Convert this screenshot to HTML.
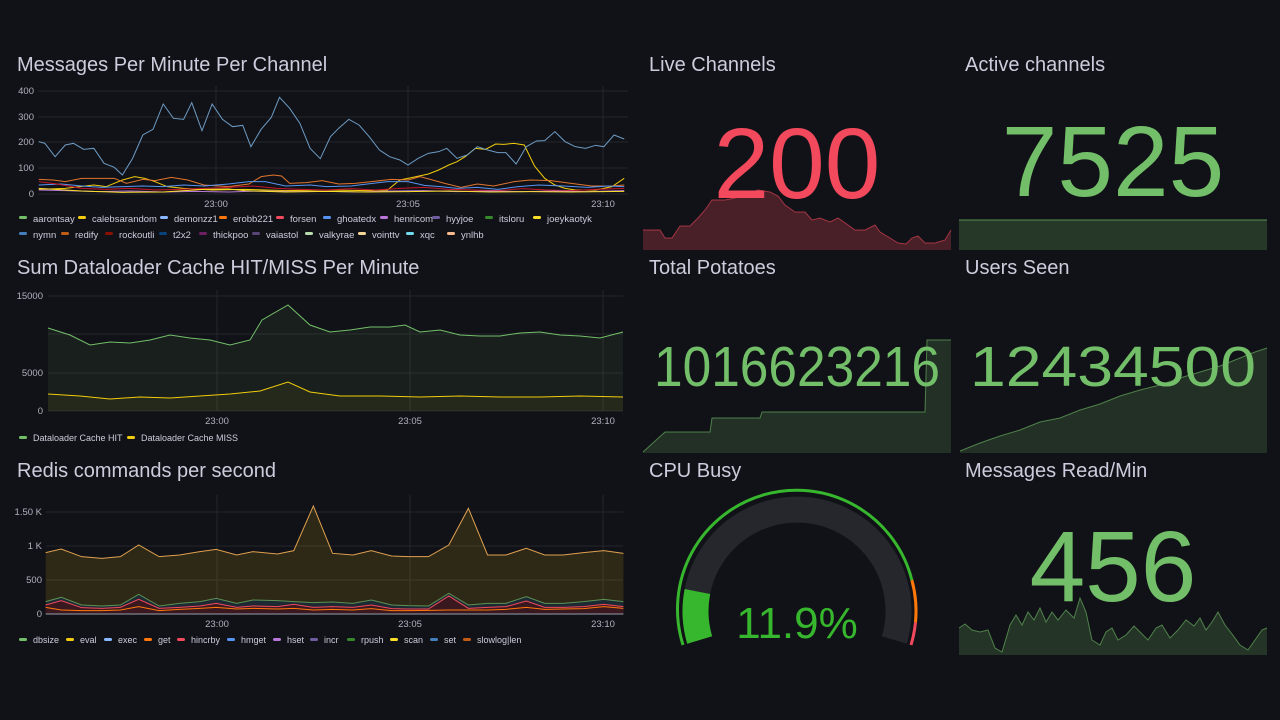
<!DOCTYPE html>
<html><head><meta charset="utf-8"><style>
body{margin:0;background:#111217;width:1280px;height:720px;overflow:hidden;font-family:"Liberation Sans",sans-serif}
svg{display:block}
.t{fill:#ccccdc;font-size:20px}
.ax{fill:#ccccdc;font-size:9.5px;opacity:.85}
.lg{fill:#ccccdc;font-size:9.5px}
.lg2{fill:#ccccdc;font-size:9px}
.g{stroke:#25262b;stroke-width:1}
</style></head><body>
<svg width="1280" height="720" viewBox="0 0 1280 720" xmlns="http://www.w3.org/2000/svg">
<rect width="1280" height="720" fill="#111217"/>
<text class="t" x="17" y="71">Messages Per Minute Per Channel</text>
<text class="t" x="17" y="274">Sum Dataloader Cache HIT/MISS Per Minute</text>
<text class="t" x="17" y="477">Redis commands per second</text>
<text class="t" x="649" y="71">Live Channels</text>
<text class="t" x="965" y="71">Active channels</text>
<text class="t" x="649" y="274">Total Potatoes</text>
<text class="t" x="965" y="274">Users Seen</text>
<text class="t" x="649" y="477">CPU Busy</text>
<text class="t" x="965" y="477">Messages Read/Min</text>

<!-- Panel 1 -->
<g class="g">
<line x1="38" x2="628" y1="91" y2="91"/><line x1="38" x2="628" y1="117" y2="117"/><line x1="38" x2="628" y1="142" y2="142"/><line x1="38" x2="628" y1="168" y2="168"/><line x1="38" x2="628" y1="194" y2="194"/>
<line x1="216" x2="216" y1="86" y2="194"/><line x1="408" x2="408" y1="86" y2="194"/><line x1="603" x2="603" y1="86" y2="194"/>
</g>
<g class="ax" text-anchor="end"><text x="34" y="94">400</text><text x="34" y="120">300</text><text x="34" y="145">200</text><text x="34" y="171">100</text><text x="34" y="197">0</text></g>
<g class="ax" text-anchor="middle"><text x="216" y="207">23:00</text><text x="408" y="207">23:05</text><text x="603" y="207">23:10</text></g>
<g transform="translate(0,80) scale(0.408,0.33333)" fill="none" stroke-width="1" >
<polyline vector-effect="non-scaling-stroke" stroke="#F2CC0C" points="95,328 160,325 230,315 260,320 300,300 330,290 355,295 380,305 410,320 450,325 520,330 600,328 700,332 800,330 900,332 950,330 980,300 1000,295 1050,282 1075,270 1100,255 1120,245 1140,230 1165,205 1190,208 1215,192 1235,193 1260,190 1285,195 1310,258 1335,295 1360,315 1385,325 1410,330 1460,330 1500,320 1530,295"/>
<polyline vector-effect="non-scaling-stroke" stroke="#E0752D" points="95,298 130,300 160,305 200,295 230,295 280,295 310,310 350,298 380,302 420,292 460,300 500,315 560,320 610,312 640,290 670,285 690,288 710,310 750,308 790,302 830,312 870,310 910,305 960,298 1000,300 1030,290 1060,300 1090,310 1130,322 1170,312 1210,318 1260,305 1300,300 1350,302 1400,310 1450,318 1500,318 1530,315"/>
<polyline vector-effect="non-scaling-stroke" stroke="#5794F2" points="95,315 150,312 200,318 250,322 300,320 350,318 400,320 450,315 500,318 560,312 610,305 650,305 700,318 760,315 800,320 860,318 900,312 950,305 1000,305 1040,316 1080,320 1120,325 1170,322 1220,328 1270,320 1320,315 1380,318 1440,322 1490,318 1530,320"/>
<polyline vector-effect="non-scaling-stroke" stroke="#C4162A" points="95,305 140,312 200,325 260,328 320,325 380,330 440,328 500,325 560,322 620,318 680,325 740,328 800,330 860,326 920,330 980,325 1040,322 1100,328 1160,330 1220,332 1280,326 1340,330 1400,332 1460,328 1530,325"/>
<polyline vector-effect="non-scaling-stroke" stroke="#B877D9" points="95,330 160,332 240,335 320,333 400,336 480,334 560,336 640,333 720,335 800,334 880,336 960,333 1040,332 1120,335 1200,333 1280,335 1360,333 1440,335 1530,332"/>
<polyline vector-effect="non-scaling-stroke" stroke="#FADE2A" points="95,325 200,333 300,337 400,336 500,328 560,327 600,332 700,336 800,334 900,336 1000,335 1100,333 1200,336 1300,335 1400,336 1530,334"/>
<polyline vector-effect="non-scaling-stroke" stroke="#6d9bc3" points="95,185 110,190 135,230 160,195 180,190 205,208 230,205 255,250 280,262 300,285 325,235 350,165 375,148 400,72 425,115 450,118 470,68 495,152 520,72 545,118 570,140 595,136 615,200 640,148 665,112 685,52 710,85 735,130 760,205 785,236 810,170 830,145 855,118 880,135 905,170 930,210 955,230 980,240 1000,255 1025,235 1050,220 1075,215 1095,205 1120,235 1145,225 1170,200 1195,210 1220,218 1240,218 1265,252 1290,200 1315,183 1335,182 1360,155 1385,185 1410,200 1435,205 1460,196 1480,200 1505,165 1530,177"/>
</g>
<g class="lg">
<rect x="19" y="216" width="8" height="3" rx="1.5" fill="#73BF69"/><text x="33" y="222">aarontsay</text>
<rect x="78" y="216" width="8" height="3" rx="1.5" fill="#F2CC0C"/><text x="92" y="222">calebsarandom</text>
<rect x="160" y="216" width="8" height="3" rx="1.5" fill="#8AB8FF"/><text x="174" y="222">demonzz1</text>
<rect x="219" y="216" width="8" height="3" rx="1.5" fill="#FF780A"/><text x="233" y="222">erobb221</text>
<rect x="276" y="216" width="8" height="3" rx="1.5" fill="#F2495C"/><text x="290" y="222">forsen</text>
<rect x="323" y="216" width="8" height="3" rx="1.5" fill="#5794F2"/><text x="337" y="222">ghoatedx</text>
<rect x="380" y="216" width="8" height="3" rx="1.5" fill="#B877D9"/><text x="394" y="222">henricom</text>
<rect x="432" y="216" width="8" height="3" rx="1.5" fill="#705DA0"/><text x="446" y="222">hyyjoe</text>
<rect x="485" y="216" width="8" height="3" rx="1.5" fill="#37872D"/><text x="499" y="222">itsloru</text>
<rect x="533" y="216" width="8" height="3" rx="1.5" fill="#FADE2A"/><text x="547" y="222">joeykaotyk</text>
<rect x="19" y="232" width="8" height="3" rx="1.5" fill="#447EBC"/><text x="33" y="238">nymn</text>
<rect x="61" y="232" width="8" height="3" rx="1.5" fill="#C15C17"/><text x="75" y="238">redify</text>
<rect x="105" y="232" width="8" height="3" rx="1.5" fill="#890F02"/><text x="119" y="238">rockoutli</text>
<rect x="159" y="232" width="8" height="3" rx="1.5" fill="#0A437C"/><text x="173" y="238">t2x2</text>
<rect x="199" y="232" width="8" height="3" rx="1.5" fill="#6D1F62"/><text x="213" y="238">thickpoo</text>
<rect x="252" y="232" width="8" height="3" rx="1.5" fill="#584477"/><text x="266" y="238">vaiastol</text>
<rect x="305" y="232" width="8" height="3" rx="1.5" fill="#B7DBAB"/><text x="319" y="238">valkyrae</text>
<rect x="358" y="232" width="8" height="3" rx="1.5" fill="#F4D598"/><text x="372" y="238">vointtv</text>
<rect x="406" y="232" width="8" height="3" rx="1.5" fill="#70DBED"/><text x="420" y="238">xqc</text>
<rect x="447" y="232" width="8" height="3" rx="1.5" fill="#F9BA8F"/><text x="461" y="238">ynlhb</text>
</g>

<!-- Panel 2 -->
<g class="g">
<line x1="48" x2="623" y1="296" y2="296"/><line x1="48" x2="623" y1="334" y2="334"/><line x1="48" x2="623" y1="373" y2="373"/><line x1="48" x2="623" y1="411" y2="411"/>
<line x1="217" x2="217" y1="290" y2="411"/><line x1="410" x2="410" y1="290" y2="411"/><line x1="603" x2="603" y1="290" y2="411"/>
</g>
<g class="ax" text-anchor="end"><text x="43" y="299">15000</text><text x="43" y="376">5000</text><text x="43" y="414">0</text></g>
<g class="ax" text-anchor="middle"><text x="217" y="424">23:00</text><text x="410" y="424">23:05</text><text x="603" y="424">23:10</text></g>
<polygon fill="#73BF69" fill-opacity="0.08" points="48,328 70,335 90,345 110,342 130,343 150,340 170,335 190,338 210,340 230,345 250,340 262,320 288,305 310,325 330,332 350,330 370,327 390,327 405,325 420,332 440,330 460,335 480,336 500,336 520,333 540,332 560,335 580,336 600,338 623,332 623,411 48,411"/>
<polyline fill="none" stroke="#73BF69" stroke-width="1" points="48,328 70,335 90,345 110,342 130,343 150,340 170,335 190,338 210,340 230,345 250,340 262,320 288,305 310,325 330,332 350,330 370,327 390,327 405,325 420,332 440,330 460,335 480,336 500,336 520,333 540,332 560,335 580,336 600,338 623,332"/>
<polygon fill="#F2CC0C" fill-opacity="0.06" points="48,394 80,396 110,399 140,397 170,398 200,396 230,394 260,391 288,382 310,392 340,396 380,396 420,397 460,396 500,397 540,397 580,396 623,397 623,411 48,411"/>
<polyline fill="none" stroke="#F2CC0C" stroke-width="1" points="48,394 80,396 110,399 140,397 170,398 200,396 230,394 260,391 288,382 310,392 340,396 380,396 420,397 460,396 500,397 540,397 580,396 623,397"/>
<g class="lg2">
<rect x="19" y="436" width="8" height="3" rx="1.5" fill="#73BF69"/><text x="33" y="441">Dataloader Cache HIT</text>
<rect x="127" y="436" width="8" height="3" rx="1.5" fill="#F2CC0C"/><text x="141" y="441">Dataloader Cache MISS</text>
</g>

<!-- Panel 3 -->
<g class="g">
<line x1="46" x2="623" y1="512" y2="512"/><line x1="46" x2="623" y1="546" y2="546"/><line x1="46" x2="623" y1="580" y2="580"/><line x1="46" x2="623" y1="614" y2="614"/>
<line x1="217" x2="217" y1="495" y2="614"/><line x1="410" x2="410" y1="495" y2="614"/><line x1="603" x2="603" y1="495" y2="614"/>
</g>
<g class="ax" text-anchor="end"><text x="42" y="515">1.50 K</text><text x="42" y="549">1 K</text><text x="42" y="583">500</text><text x="42" y="617">0</text></g>
<g class="ax" text-anchor="middle"><text x="217" y="627">23:00</text><text x="410" y="627">23:05</text><text x="603" y="627">23:10</text></g>
<g transform="translate(0,490) scale(0.408,0.33333)">
<polygon fill="#F2CC0C" fill-opacity="0.13" points="112,188 150,177 200,200 250,205 295,200 340,165 390,200 440,195 490,185 530,178 580,195 620,185 680,192 720,182 768,48 815,190 865,195 910,182 960,198 1000,200 1050,200 1100,165 1148,55 1195,195 1240,195 1290,175 1335,195 1380,195 1430,188 1480,182 1528,190 1528,373 112,373"/>
<polyline vector-effect="non-scaling-stroke" fill="none" stroke="#E0A050" stroke-width="1" points="112,188 150,177 200,200 250,205 295,200 340,165 390,200 440,195 490,185 530,178 580,195 620,185 680,192 720,182 768,48 815,190 865,195 910,182 960,198 1000,200 1050,200 1100,165 1148,55 1195,195 1240,195 1290,175 1335,195 1380,195 1430,188 1480,182 1528,190"/>
<polygon fill="#1e2a33" points="112,335 150,322 200,345 250,348 295,345 340,313 390,348 440,340 490,335 530,325 580,340 620,330 680,332 720,335 768,338 815,336 865,340 910,330 960,345 1000,347 1050,348 1100,310 1148,345 1195,340 1240,340 1290,320 1335,340 1380,340 1430,335 1480,328 1528,335 1528,373 112,373"/>
<polyline vector-effect="non-scaling-stroke" fill="none" stroke="#73BF69" stroke-opacity="0.7" stroke-width="1" points="112,335 150,322 200,345 250,348 295,345 340,313 390,348 440,340 490,335 530,325 580,340 620,330 680,332 720,335 768,338 815,336 865,340 910,330 960,345 1000,347 1050,348 1100,310 1148,345 1195,340 1240,340 1290,320 1335,340 1380,340 1430,335 1480,328 1528,335"/>
<polygon fill="#3a1820" points="112,345 150,332 200,353 250,355 295,352 340,328 390,355 440,352 490,348 530,340 580,352 620,348 680,350 720,343 768,352 815,350 865,352 910,345 960,356 1000,357 1050,357 1100,318 1148,355 1195,352 1240,350 1290,333 1335,352 1380,352 1430,350 1480,343 1528,350 1528,373 112,373"/>
<polyline vector-effect="non-scaling-stroke" fill="none" stroke="#F2495C" stroke-width="1" points="112,345 150,332 200,353 250,355 295,352 340,328 390,355 440,352 490,348 530,340 580,352 620,348 680,350 720,343 768,352 815,350 865,352 910,345 960,356 1000,357 1050,357 1100,318 1148,355 1195,352 1240,350 1290,333 1335,352 1380,352 1430,350 1480,343 1528,350"/>
<polyline vector-effect="non-scaling-stroke" fill="none" stroke="#FF780A" stroke-width="1" points="112,352 150,360 200,362 250,362 295,360 340,350 390,362 440,358 490,355 530,352 580,357 620,355 680,357 720,355 768,360 815,358 865,360 910,356 960,362 1000,362 1050,361 1100,360 1148,360 1195,360 1240,358 1290,352 1335,358 1380,357 1430,356 1480,350 1528,355"/>
<rect x="112" y="370" width="1416" height="4" fill="#7a7d88"/>
</g>
<g class="lg2">
<rect x="19" y="638" width="8" height="3" rx="1.5" fill="#73BF69"/><text x="33" y="643">dbsize</text>
<rect x="66" y="638" width="8" height="3" rx="1.5" fill="#F2CC0C"/><text x="80" y="643">eval</text>
<rect x="104" y="638" width="8" height="3" rx="1.5" fill="#8AB8FF"/><text x="118" y="643">exec</text>
<rect x="144" y="638" width="8" height="3" rx="1.5" fill="#FF780A"/><text x="158" y="643">get</text>
<rect x="177" y="638" width="8" height="3" rx="1.5" fill="#F2495C"/><text x="191" y="643">hincrby</text>
<rect x="227" y="638" width="8" height="3" rx="1.5" fill="#5794F2"/><text x="241" y="643">hmget</text>
<rect x="273" y="638" width="8" height="3" rx="1.5" fill="#B877D9"/><text x="287" y="643">hset</text>
<rect x="310" y="638" width="8" height="3" rx="1.5" fill="#705DA0"/><text x="324" y="643">incr</text>
<rect x="347" y="638" width="8" height="3" rx="1.5" fill="#37872D"/><text x="361" y="643">rpush</text>
<rect x="390" y="638" width="8" height="3" rx="1.5" fill="#FADE2A"/><text x="404" y="643">scan</text>
<rect x="430" y="638" width="8" height="3" rx="1.5" fill="#447EBC"/><text x="444" y="643">set</text>
<rect x="463" y="638" width="8" height="3" rx="1.5" fill="#C15C17"/><text x="477" y="643">slowlog|len</text>
</g>

<!-- Live Channels -->
<polygon fill="#F2495C" fill-opacity="0.25" points="643,230 660,230 665,238 672,238 680,226 690,226 698,218 705,210 712,200 725,200 735,198 745,195 758,190 770,192 778,196 785,205 795,212 805,212 812,220 820,218 830,222 838,218 848,225 855,230 865,230 875,225 880,232 890,238 898,243 906,244 912,238 918,236 925,243 935,243 945,240 951,230 951,250 643,250"/>
<polyline fill="none" stroke="#F2495C" stroke-opacity="0.6" points="643,230 660,230 665,238 672,238 680,226 690,226 698,218 705,210 712,200 725,200 735,198 745,195 758,190 770,192 778,196 785,205 795,212 805,212 812,220 820,218 830,222 838,218 848,225 855,230 865,230 875,225 880,232 890,238 898,243 906,244 912,238 918,236 925,243 935,243 945,240 951,230"/>
<text x="797" y="198" text-anchor="middle" fill="#F2495C" font-size="100">200</text>

<!-- Active channels -->
<rect x="959" y="220" width="308" height="30" fill="#73BF69" fill-opacity="0.22"/>
<line x1="959" x2="1267" y1="220" y2="220" stroke="#73BF69" stroke-opacity="0.7"/>
<text x="1113" y="196" text-anchor="middle" fill="#73BF69" font-size="100">7525</text>

<!-- Total Potatoes -->
<polygon fill="#73BF69" fill-opacity="0.18" points="643,452 665,432 710,432 712,418 760,418 762,412 925,412 927,340 951,340 951,453 643,453"/>
<polyline fill="none" stroke="#73BF69" stroke-opacity="0.6" points="643,452 665,432 710,432 712,418 760,418 762,412 925,412 927,340 951,340"/>
<text x="797" y="386" text-anchor="middle" fill="#73BF69" font-size="57" textLength="286" lengthAdjust="spacingAndGlyphs">1016623216</text>

<!-- Users Seen -->
<polygon fill="#73BF69" fill-opacity="0.18" points="960,451 980,443 1000,436 1020,430 1040,422 1060,418 1080,410 1100,404 1120,396 1140,390 1160,385 1180,378 1200,372 1220,366 1240,358 1255,352 1267,348 1267,453 960,453"/>
<polyline fill="none" stroke="#73BF69" stroke-opacity="0.6" points="960,451 980,443 1000,436 1020,430 1040,422 1060,418 1080,410 1100,404 1120,396 1140,390 1160,385 1180,378 1200,372 1220,366 1240,358 1255,352 1267,348"/>
<text x="1113" y="386" text-anchor="middle" fill="#73BF69" font-size="57" textLength="286" lengthAdjust="spacingAndGlyphs">12434500</text>

<!-- CPU Busy gauge -->
<path d="M683,645 A119,119 0 1 1 911.9,580.2" fill="none" stroke="#37B72D" stroke-width="3"/>
<path d="M911.9,580.2 A119,119 0 0 1 915.5,622.4" fill="none" stroke="#FF780A" stroke-width="3"/>
<path d="M915.5,622.4 A119,119 0 0 1 911,645" fill="none" stroke="#F2495C" stroke-width="3"/>
<path d="M699.7,640 A101.5,101.5 0 1 1 894.3,640" fill="none" stroke="#25272d" stroke-width="26"/>
<path d="M699.7,640 A101.5,101.5 0 0 1 697.4,591.5" fill="none" stroke="#37B72D" stroke-width="26"/>
<text x="797" y="638" text-anchor="middle" fill="#37B72D" font-size="44">11.9%</text>

<!-- Messages Read/Min -->
<polygon fill="#73BF69" fill-opacity="0.2" points="959,628 965,624 972,630 980,632 988,630 995,648 1002,652 1010,625 1016,615 1022,625 1028,612 1034,620 1040,608 1046,622 1052,612 1058,620 1066,610 1074,618 1080,598 1086,612 1092,640 1100,645 1106,632 1112,628 1118,640 1126,635 1134,626 1140,632 1148,640 1156,628 1162,625 1170,638 1178,630 1186,620 1194,626 1200,618 1206,630 1212,622 1218,612 1225,625 1232,634 1240,645 1248,650 1255,640 1262,630 1267,628 1267,655 959,655"/>
<polyline fill="none" stroke="#73BF69" stroke-opacity="0.6" points="959,628 965,624 972,630 980,632 988,630 995,648 1002,652 1010,625 1016,615 1022,625 1028,612 1034,620 1040,608 1046,622 1052,612 1058,620 1066,610 1074,618 1080,598 1086,612 1092,640 1100,645 1106,632 1112,628 1118,640 1126,635 1134,626 1140,632 1148,640 1156,628 1162,625 1170,638 1178,630 1186,620 1194,626 1200,618 1206,630 1212,622 1218,612 1225,625 1232,634 1240,645 1248,650 1255,640 1262,630 1267,628"/>
<text x="1113" y="601" text-anchor="middle" fill="#73BF69" font-size="100">456</text>
</svg>
</body></html>
